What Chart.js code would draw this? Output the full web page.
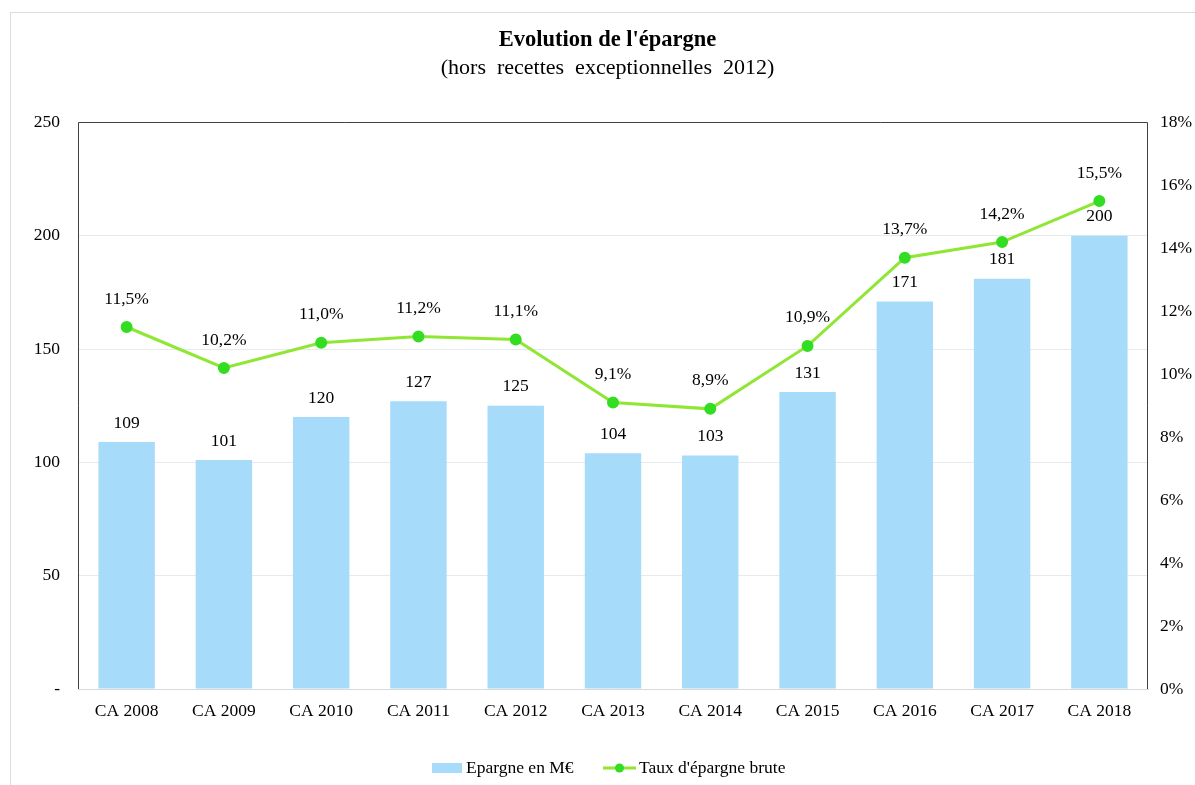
<!DOCTYPE html>
<html>
<head>
<meta charset="utf-8">
<script src="https://cdn.jsdelivr.net/npm/chart.js@4.4.1/dist/chart.umd.min.js"></script>
<style>
  body { margin: 0; background: #fff; }
  #wrap { width: 1195px; height: 785px; }
</style>
</head>
<body>
<div id="wrap"><canvas id="chart" width="1195" height="785"></canvas></div>
<script>
// chart data
var categories = ['CA 2008', 'CA 2009', 'CA 2010', 'CA 2011', 'CA 2012', 'CA 2013', 'CA 2014', 'CA 2015', 'CA 2016', 'CA 2017', 'CA 2018'];
var epargne = [109, 101, 120, 127, 125, 104, 103, 131, 171, 181, 200];
var tauxEpargne = [11.5, 10.2, 11.0, 11.2, 11.1, 9.1, 8.9, 10.9, 13.7, 14.2, 15.5];

var FONT = "'Liberation Serif', 'Times New Roman', serif";
var TXT = 17.5;
var barColor = '#A6DBFA';
var lineColor = '#8FE633';
var pointColor = '#33DD22';

function frLabel(v, dec) {
  return v.toFixed(dec).replace('.', ',');
}

// draws border, frame, value labels and the legend
var decorPlugin = {
  id: 'decor',
  afterDatasetsDraw: function(chart) {
    var ctx = chart.ctx;
    var a = chart.chartArea;
    ctx.save();
    // outer light border (only top and left are visible)
    ctx.strokeStyle = '#D9DEDE';
    ctx.lineWidth = 1;
    ctx.strokeRect(10.5, 12.5, 1250, 800);
    // plot frame (top, left, right)
    ctx.strokeStyle = '#404040';
    ctx.beginPath();
    ctx.moveTo(Math.round(a.left) + 0.5, Math.round(a.bottom));
    ctx.lineTo(Math.round(a.left) + 0.5, Math.round(a.top) + 0.5);
    ctx.lineTo(Math.round(a.right) - 0.5, Math.round(a.top) + 0.5);
    ctx.lineTo(Math.round(a.right) - 0.5, Math.round(a.bottom));
    ctx.stroke();

    // value labels
    ctx.fillStyle = '#000';
    ctx.font = TXT + 'px ' + FONT;
    ctx.textAlign = 'center';
    ctx.textBaseline = 'middle';
    chart.getDatasetMeta(1).data.forEach(function(bar, i) {
      ctx.fillText(String(epargne[i]), bar.x, bar.y - 19);
    });
    chart.getDatasetMeta(0).data.forEach(function(pt, i) {
      ctx.fillText(frLabel(tauxEpargne[i], 1) + '%', pt.x, pt.y - 28);
    });

    // legend
    var ly = 768;
    ctx.fillStyle = barColor;
    ctx.fillRect(432, ly - 5, 30, 10);
    ctx.fillStyle = '#000';
    ctx.textAlign = 'left';
    ctx.fillText('Epargne en M\u20AC', 466, ly);
    ctx.strokeStyle = lineColor;
    ctx.lineWidth = 3;
    ctx.beginPath();
    ctx.moveTo(603, ly);
    ctx.lineTo(636, ly);
    ctx.stroke();
    ctx.fillStyle = pointColor;
    ctx.beginPath();
    ctx.arc(619.5, ly, 4.5, 0, Math.PI * 2);
    ctx.fill();
    ctx.fillStyle = '#000';
    ctx.fillText("Taux d'\u00e9pargne brute", 639, ly);
    ctx.restore();
  }
};

var ctx = document.getElementById('chart').getContext('2d');
var myChart = new Chart(ctx, {
  type: 'bar',
  data: {
    labels: categories,
    datasets: [
      {
        type: 'line',
        label: "Taux d'épargne brute",
        data: tauxEpargne,
        yAxisID: 'y1',
        borderColor: lineColor,
        borderWidth: 3,
        pointBackgroundColor: pointColor,
        pointBorderColor: pointColor,
        pointRadius: 4.5,
        tension: 0,
        order: 0
      },
      {
        type: 'bar',
        label: 'Epargne en M€',
        data: epargne,
        yAxisID: 'y',
        backgroundColor: barColor,
        borderWidth: 0,
        barPercentage: 0.58,
        categoryPercentage: 1,
        order: 1
      }
    ]
  },
  options: {
    responsive: false,
    animation: false,
    layout: { padding: { left: 20, right: 0, top: 12, bottom: 60 } },
    plugins: {
      legend: { display: false },
      tooltip: { enabled: false },
      title: {
        display: true,
        text: "Evolution de l'épargne",
        color: '#000',
        font: { family: FONT, size: 22.5, weight: 'bold' },
        padding: { top: 14.5, bottom: 0 }
      },
      subtitle: {
        display: true,
        text: '(hors  recettes  exceptionnelles  2012)',
        color: '#000',
        font: { family: FONT, size: 22 },
        padding: { top: 2, bottom: 40.5 }
      }
    },
    scales: {
      x: {
        grid: { display: false, drawTicks: false },
        border: { display: true, color: '#D9D9D9' },
        ticks: { color: '#000', font: { family: FONT, size: TXT }, padding: 12, maxRotation: 0 },
        afterFit: function(s) { s.height = 36; }
      },
      y: {
        position: 'left',
        min: 0,
        max: 250,
        grid: { color: '#E6EAEA', drawTicks: false },
        border: { display: false },
        ticks: {
          stepSize: 50,
          color: '#000',
          font: { family: FONT, size: TXT },
          padding: 18,
          callback: function(v) { return v === 0 ? '-' : v; }
        },
        afterFit: function(s) { s.width = 58; }
      },
      y1: {
        position: 'right',
        min: 0,
        max: 18,
        grid: { display: false, drawTicks: false },
        border: { display: false },
        ticks: {
          stepSize: 2,
          color: '#000',
          font: { family: FONT, size: TXT },
          padding: 12,
          callback: function(v) { return v + '%'; }
        },
        afterFit: function(s) { s.width = 47; }
      }
    }
  },
  plugins: [decorPlugin]
});
</script>
</body>
</html>
